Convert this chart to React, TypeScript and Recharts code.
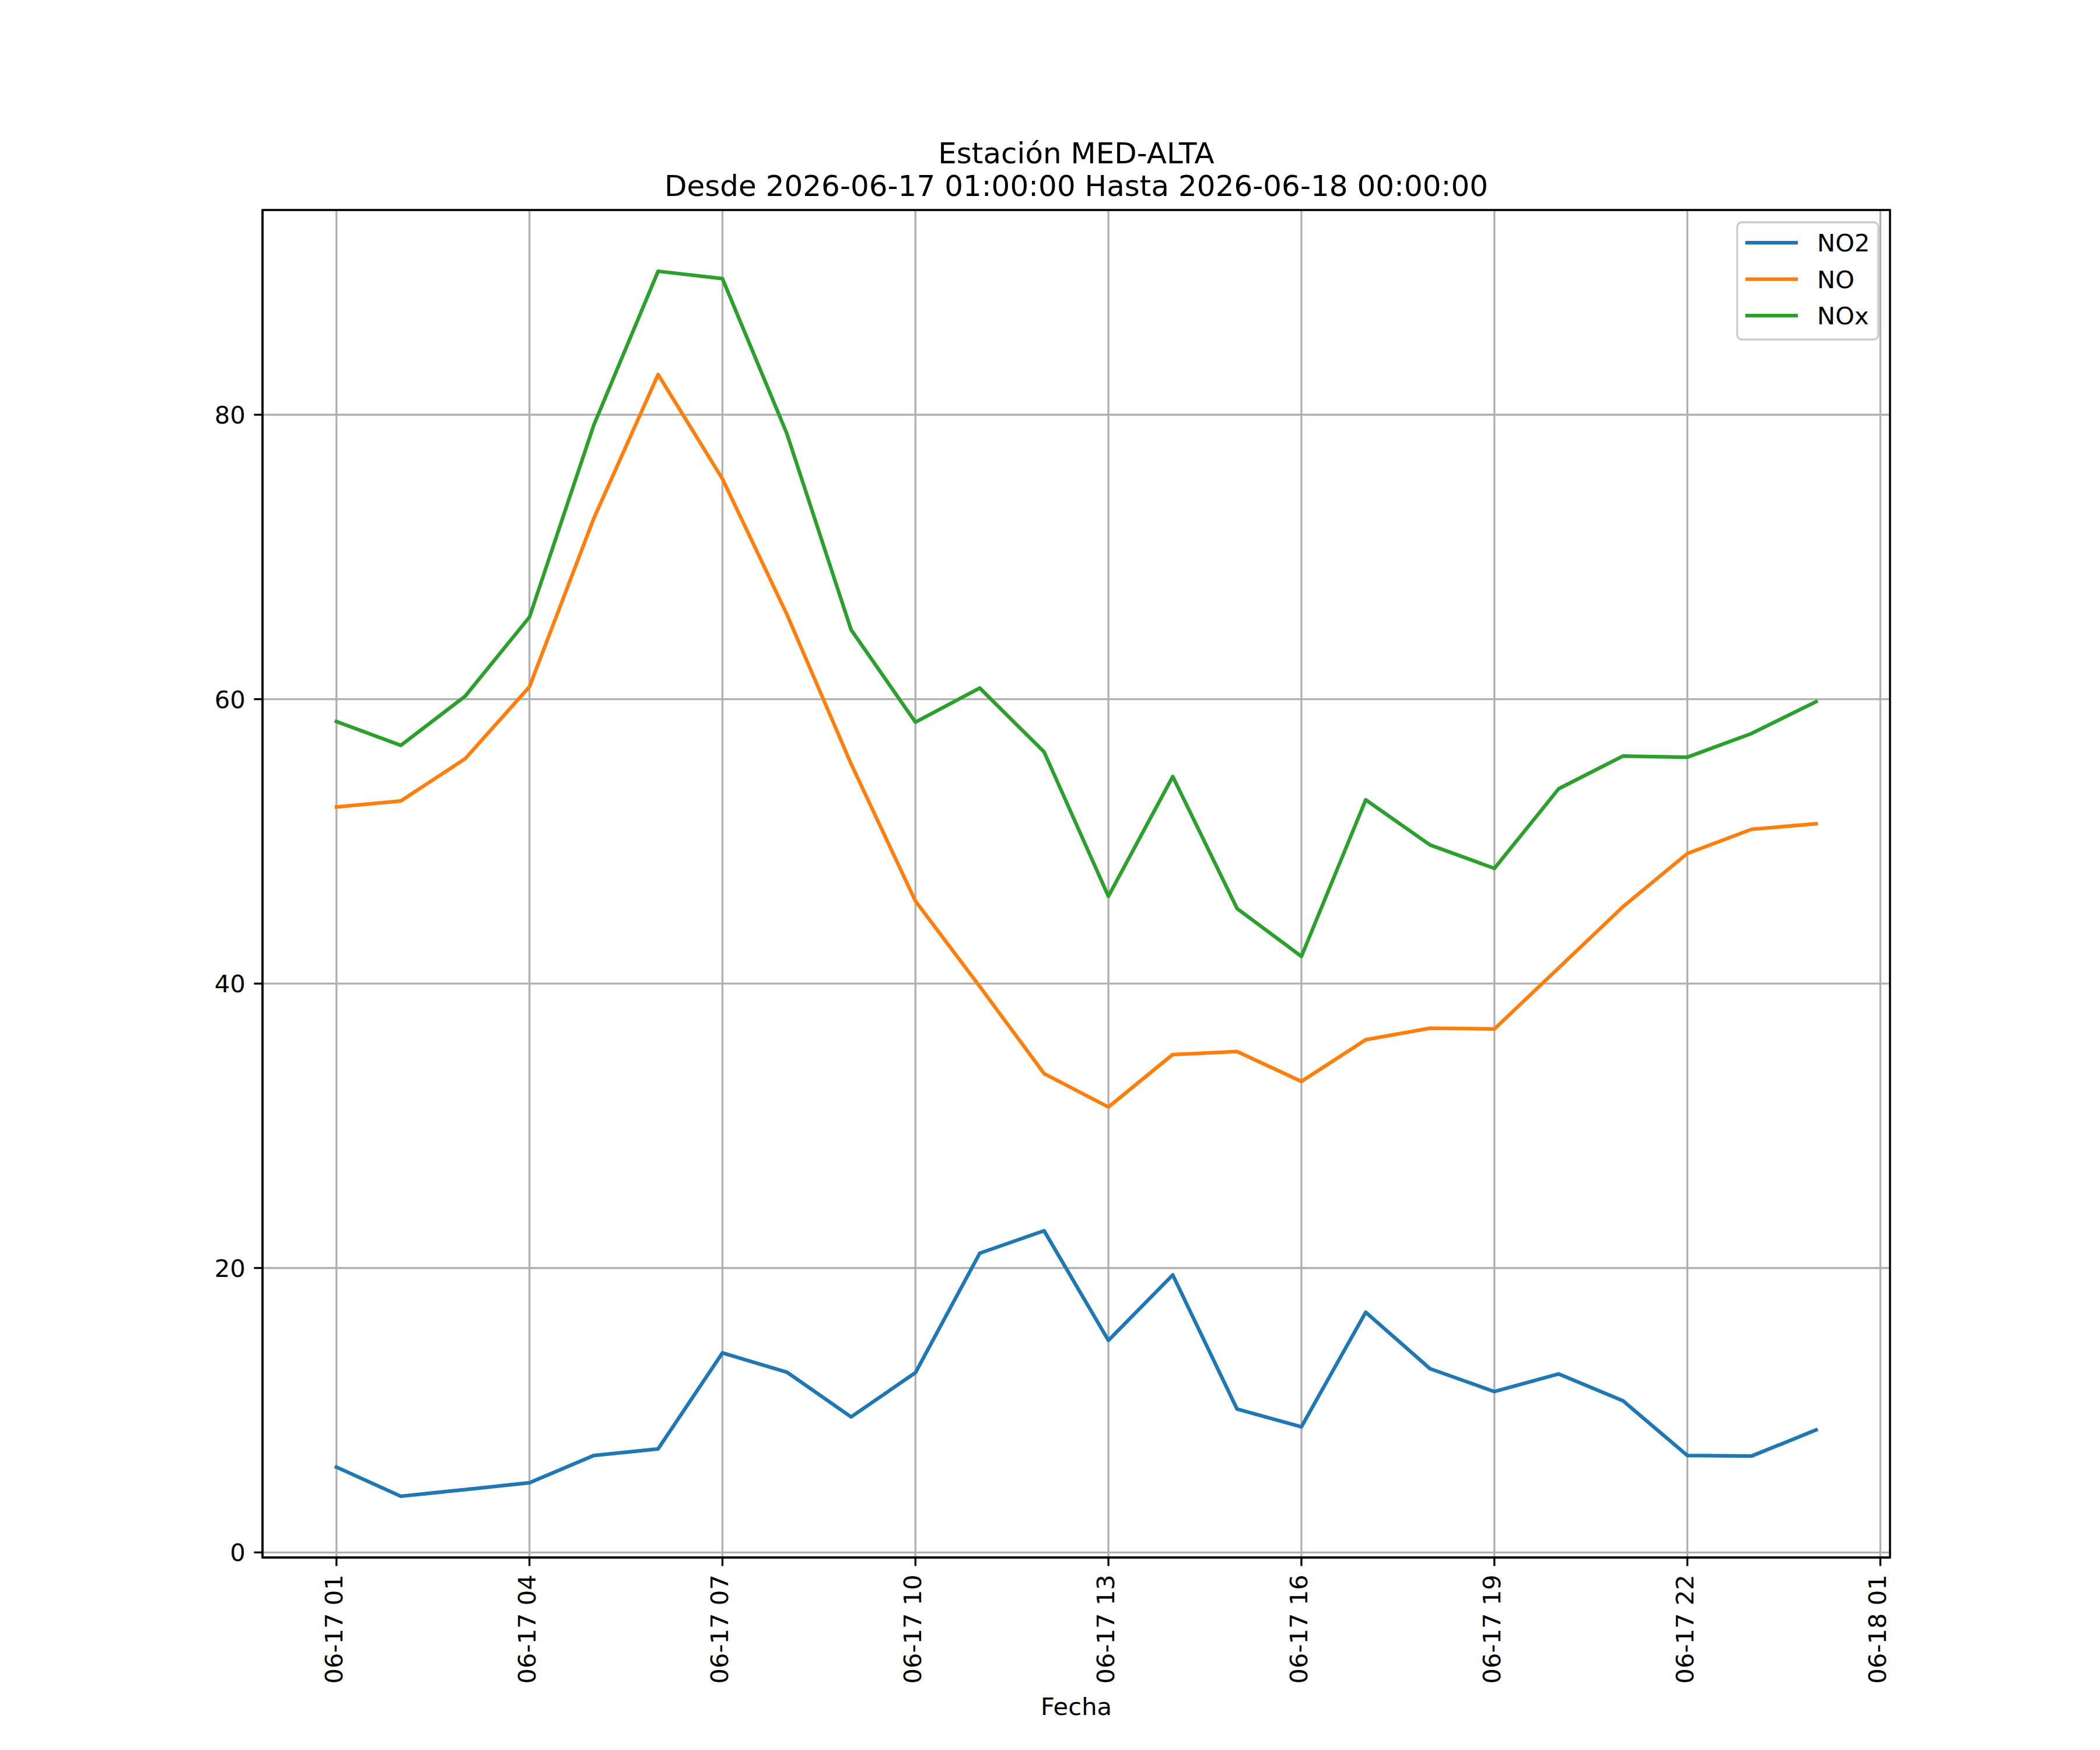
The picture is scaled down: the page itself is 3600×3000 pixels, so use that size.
import { LineChart, Line, XAxis, YAxis, CartesianGrid, Legend, ReferenceArea } from 'recharts';

// matplotlib-like canvas: no body margin
document.body.style.margin = '0';

const FONT = "'DejaVu Sans', sans-serif";

// Hourly timestamps (categories)
const TIMES = [
  '2026-06-17 01:00:00', '2026-06-17 02:00:00', '2026-06-17 03:00:00', '2026-06-17 04:00:00',
  '2026-06-17 05:00:00', '2026-06-17 06:00:00', '2026-06-17 07:00:00', '2026-06-17 08:00:00',
  '2026-06-17 09:00:00', '2026-06-17 10:00:00', '2026-06-17 11:00:00', '2026-06-17 12:00:00',
  '2026-06-17 13:00:00', '2026-06-17 14:00:00', '2026-06-17 15:00:00', '2026-06-17 16:00:00',
  '2026-06-17 17:00:00', '2026-06-17 18:00:00', '2026-06-17 19:00:00', '2026-06-17 20:00:00',
  '2026-06-17 21:00:00', '2026-06-17 22:00:00', '2026-06-17 23:00:00', '2026-06-18 00:00:00',
];

// Series values
const NO2 = [6.0, 3.95, 4.42, 4.9, 6.82, 7.28, 14.03, 12.68, 9.53, 12.64, 21.04, 22.62,
  14.91, 19.51, 10.08, 8.83, 16.89, 12.92, 11.31, 12.55, 10.66, 6.82, 6.78, 8.61];
const NO = [52.42, 52.84, 55.81, 60.87, 72.71, 82.83, 75.49, 65.98, 55.45, 45.8, 39.8, 33.67,
  31.32, 35.01, 35.22, 33.12, 36.05, 36.86, 36.81, 41.1, 45.41, 49.15, 50.85, 51.24];
const NOX = [58.43, 56.75, 60.21, 65.77, 79.27, 90.09, 89.57, 78.69, 64.88, 58.38, 60.78, 56.29,
  46.14, 54.56, 45.28, 41.91, 52.92, 49.75, 48.1, 53.7, 56.0, 55.92, 57.59, 59.82];

// legend order = plotting order
const SERIES_ORDER = ['NO2', 'NO', 'NOx'];

// X ticks: hours after the first timestamp, with their labels
const X_TICKS = [0, 3, 6, 9, 12, 15, 18, 21, 24];
const X_TICK_LABELS = ['06-17 01', '06-17 04', '06-17 07', '06-17 10', '06-17 13',
  '06-17 16', '06-17 19', '06-17 22', '06-18 01'];
const Y_TICKS = [0, 20, 40, 60, 80];

const data = TIMES.map((time, i) => ({ t: i, time, NO2: NO2[i], NO: NO[i], NOx: NOX[i] }));

// matplotlib auto-limits: 5% margins
const xSpan = TIMES.length - 1;
const X_DOMAIN: [number, number] = [-0.05 * xSpan, xSpan + 0.05 * xSpan];
const allValues = [...NO2, ...NO, ...NOX];
const yMin = Math.min(...allValues);
const yMax = Math.max(...allValues);
const Y_DOMAIN: [number, number] = [yMin - 0.05 * (yMax - yMin), yMax + 0.05 * (yMax - yMin)];

const FS = 41.67; // 10pt @ 300dpi
const LW = 3.33; // 0.8pt

const XTick = ({ x, y, payload }: any) => (
  <text
    x={x}
    y={y}
    dy={10}
    transform={`rotate(-90, ${x}, ${y})`}
    textAnchor="end"
    fontSize={FS}
    fontFamily={FONT}
    fill="#000"
  >
    {X_TICK_LABELS[X_TICKS.indexOf(payload.value)]}
  </text>
);

const YTick = ({ x, y, payload }: any) => (
  <text x={x} y={y} dy={15.2} textAnchor="end" fontSize={FS} fontFamily={FONT} fill="#000">
    {payload.value}
  </text>
);

const LegendBox = ({ payload }: any) => {
  const items = [...(payload || [])].sort(
    (a: any, b: any) => SERIES_ORDER.indexOf(a.value) - SERIES_ORDER.indexOf(b.value)
  );
  return (
    <svg width={246} height={205} style={{ display: 'block' }}>
      <rect x={2} y={2} width={242} height={201} rx={8} fill="#fff" fillOpacity={0.8}
        stroke="#cccccc" strokeWidth={LW} />
      {items.map((p: any, i: number) => (
        <g key={p.value}>
          <line x1={16} x2={106} y1={37 + 62.6 * i} y2={37 + 62.6 * i} stroke={p.color} strokeWidth={6.25} />
          <text x={139} y={52.2 + 62.6 * i} fontSize={FS} fontFamily={FONT} fill="#000">{p.value}</text>
        </g>
      ))}
    </svg>
  );
};

export default function App() {
  return (
    <div style={{ position: 'relative', width: 3600, height: 3000, background: '#fff' }}>
      <LineChart width={3600} height={3000} data={data} margin={{ top: 360, right: 360, left: 0, bottom: 0 }}>
        <CartesianGrid stroke="#b0b0b0" strokeWidth={LW} />
        <XAxis
          type="number"
          dataKey="t"
          domain={X_DOMAIN}
          ticks={X_TICKS}
          allowDataOverflow
          interval={0}
          height={330}
          tickSize={14.6}
          tickMargin={14.6}
          tick={<XTick />}
          tickLine={{ stroke: '#000', strokeWidth: LW }}
          axisLine={{ stroke: '#000', strokeWidth: LW }}
        />
        <YAxis
          type="number"
          domain={Y_DOMAIN}
          ticks={Y_TICKS}
          allowDataOverflow
          interval={0}
          width={450}
          tickSize={14.6}
          tickMargin={14.6}
          tick={<YTick />}
          tickLine={{ stroke: '#000', strokeWidth: LW }}
          axisLine={{ stroke: '#000', strokeWidth: LW }}
        />
        <Line type="linear" dataKey="NO2" name="NO2" stroke="#1f77b4" strokeWidth={6.25} dot={false}
          activeDot={false} strokeLinejoin="round" strokeLinecap="square" isAnimationActive={false} />
        <Line type="linear" dataKey="NO" name="NO" stroke="#ff7f0e" strokeWidth={6.25} dot={false}
          activeDot={false} strokeLinejoin="round" strokeLinecap="square" isAnimationActive={false} />
        <Line type="linear" dataKey="NOx" name="NOx" stroke="#2ca02c" strokeWidth={6.25} dot={false}
          activeDot={false} strokeLinejoin="round" strokeLinecap="square" isAnimationActive={false} />
        <ReferenceArea x1={X_DOMAIN[0]} x2={X_DOMAIN[1]} y1={Y_DOMAIN[0]} y2={Y_DOMAIN[1]}
          fill="none" fillOpacity={0} stroke="#000" strokeWidth={LW} ifOverflow="visible" />
        <Legend
          layout="horizontal"
          verticalAlign="middle"
          align="center"
          content={<LegendBox />}
          wrapperStyle={{ left: 2976, top: 379, width: 246, height: 205 }}
        />
      </LineChart>
      <svg width={3600} height={3000} style={{ position: 'absolute', left: 0, top: 0, pointerEvents: 'none' }}>
        <text x={1845} y={280} textAnchor="middle" fontSize={50} fontFamily={FONT} fill="#000">
          Estación MED-ALTA
        </text>
        <text x={1845} y={335.7} textAnchor="middle" fontSize={50} fontFamily={FONT} fill="#000">
          Desde 2026-06-17 01:00:00 Hasta 2026-06-18 00:00:00
        </text>
        <text x={1845} y={2940} textAnchor="middle" fontSize={FS} fontFamily={FONT} fill="#000">
          Fecha
        </text>
      </svg>
    </div>
  );
}
